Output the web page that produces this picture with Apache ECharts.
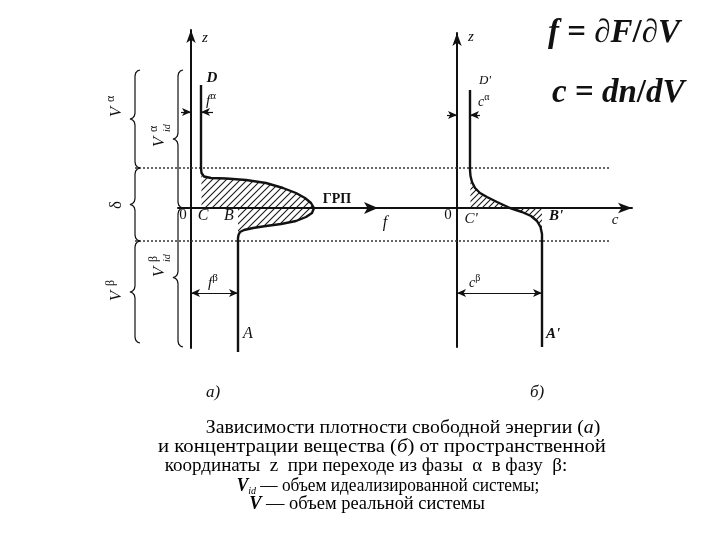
<!DOCTYPE html>
<html>
<head>
<meta charset="utf-8">
<script src="https://cdn.jsdelivr.net/npm/echarts@6/dist/echarts.min.js"></script>
<style>
  html, body { margin: 0; background: #fff; }
  #main { width: 720px; height: 540px; }
</style>
</head>
<body>
<div id="main"></div>
<script>
// а) free energy density f along z
const fAlpha = 1.0;   // f in phase alpha
const fBeta = 4.7;    // f in phase beta
const curveF = [
  [1.0, 12.3], [1.0, 4.0], [1.05, 3.5], [1.3, 3.15], [2.0, 3.0], [3.5, 2.95],
  [5.5, 2.8], [7.5, 2.5], [9.2, 2.0], [10.5, 1.5], [11.4, 1.0], [12.0, 0.5],
  [12.3, 0], [12.1, -0.5], [11.5, -0.9], [10.5, -1.3], [9.0, -1.6], [7.5, -1.8],
  [6.2, -2.0], [5.3, -2.2], [4.9, -2.4], [4.75, -2.7], [4.7, -3.0], [4.7, -14.4]
];
// б) concentration c along z
const cAlpha = 1.3;
const cBeta = 8.5;
const curveC = [
  [1.3, 11.8], [1.3, 3.8], [1.35, 3.2], [1.5, 2.6], [1.8, 2.0], [2.3, 1.5],
  [3.0, 1.1], [4.0, 0.6], [5.3, 0], [6.5, -0.4], [7.4, -0.8], [8.0, -1.3],
  [8.35, -1.9], [8.5, -2.6], [8.5, -3.2], [8.5, -13.9]
];
// interface layer boundaries (dotted) and the braces on the left
const layerBounds = [4.0, -3.3];
const outerBraces = [[13.8, 4.0], [4.0, -3.3], [-3.3, -13.5]];   // V^α, δ, V^β
const innerBraces = [[13.8, 0], [0, -13.9]];                      // V^α_id, V^β_id

const serif = "'Liberation Serif','DejaVu Serif',serif";
const ink = '#111';

function hatch(step) {
  const c = document.createElement('canvas');
  c.width = c.height = step;
  const g = c.getContext('2d');
  g.strokeStyle = '#1a1a1a';
  g.lineWidth = 1.1;
  g.beginPath();
  g.moveTo(0, step); g.lineTo(step, 0);
  g.moveTo(-1, 1); g.lineTo(1, -1);
  g.moveTo(step - 1, step + 1); g.lineTo(step + 1, step - 1);
  g.stroke();
  return c;
}

// curly brace, tip to the left, hooks to the right
function brace(x, z1, z2, w, h) {
  const m = (z1 + z2) / 2, pts = [];
  const arc = (cx, cy, a0, a1) => {
    for (let i = 0; i <= 6; i++) {
      const a = (a0 + (a1 - a0) * i / 6) * Math.PI / 180;
      pts.push([cx + w * Math.cos(a), cy + h * Math.sin(a)]);
    }
  };
  arc(x + w, z1 - h, 90, 180);
  arc(x - w, m + h, 0, -90);
  arc(x - w, m - h, 90, 0);
  arc(x + w, z2 + h, 180, 270);
  return pts;
}

function line(data, gi, extra) {
  return Object.assign({
    type: 'line', xAxisIndex: gi, yAxisIndex: gi, data: data,
    symbol: 'none', clip: false, silent: true,
    lineStyle: { color: ink, width: 2 }
  }, extra || {});
}

function txt(x, y, text, o) {
  return {
    type: 'text', x: x, y: y, silent: true,
    style: Object.assign({
      text: text, fill: ink, fontFamily: serif, fontSize: 16,
      align: 'center', verticalAlign: 'middle'
    }, o || {})
  };
}
// letter with a superscript
function supTxt(x, y, base, sup, size) {
  return txt(x, y, '{b|' + base + '}{s|' + sup + '}', {
    align: 'left',
    rich: {
      b: { fontFamily: serif, fontStyle: 'italic', fontSize: size, lineHeight: size + 6, fill: ink },
      s: { fontFamily: serif, fontSize: size - 4, lineHeight: size - 3, verticalAlign: 'top', fill: ink }
    }
  });
}
// vertical (rotated) volume labels
function vLabel(x, y, sup, sub) {
  const kids = [txt(-4, 0, 'V', { fontStyle: 'italic', fontSize: 17 })];
  kids.push(txt(6, -6, sup, { fontSize: 12, align: 'left' }));
  if (sub) kids.push(txt(6, 7, sub, { fontSize: 10, fontStyle: 'italic', align: 'left' }));
  return { type: 'group', x: x, y: y, rotation: Math.PI / 2, children: kids };
}
// caption line squeezed/stretched to the width it has in the figure
function capLine(cx, y, sx, text, rich) {
  return { type: 'group', x: cx, y: y, scaleX: sx,
    children: [txt(0, 0, text, { fontSize: 19, fill: '#000', rich: rich })] };
}

const arrowLine = { color: ink, width: 1.2, type: 'solid' };
const axisCommon = {
  type: 'value', axisTick: { show: false }, axisLabel: { show: false },
  splitLine: { show: false }
};
const hidden = { type: 'value', show: false };

const series = [];
// grid 2 spans the whole figure with the same scale as diagram a
layerBounds.forEach(z => series.push(line([[-5.6, z], [41.9, z]], 2, {
  lineStyle: { color: '#333', width: 1.5, type: [2, 2] }
})));
outerBraces.forEach(b => series.push(line(brace(-5.6, b[0], b[1], 0.5, 0.6), 2, { lineStyle: { color: ink, width: 1.2 } })));
innerBraces.forEach(b => series.push(line(brace(-1.3, b[0], b[1], 0.5, 0.6), 2, { lineStyle: { color: ink, width: 1.2 } })));

series.push(line(curveF, 2, {
  lineStyle: { color: ink, width: 2.4 },
  areaStyle: { color: { image: hatch(7), repeat: 'repeat' }, opacity: 1 },
  markLine: {
    silent: true, symbol: ['none', 'arrow'], symbolSize: [6, 9],
    lineStyle: arrowLine, label: { show: false },
    data: [
      [{ coord: [-1.0, 9.6] }, { coord: [0, 9.6] }],
      [{ coord: [2.2, 9.6] }, { coord: [fAlpha, 9.6] }],
      [{ coord: [0, -8.5], symbol: 'arrow' }, { coord: [fBeta, -8.5] }],
      [{ coord: [-1.3, 0] }, { coord: [18.7, 0], symbolSize: [9, 14], lineStyle: { width: 2 } }]
    ]
  }
}));
series.push(line(curveC, 1, {
  lineStyle: { color: ink, width: 2.4 },
  areaStyle: { color: { image: hatch(6), repeat: 'repeat' }, opacity: 1 },
  markLine: {
    silent: true, symbol: ['none', 'arrow'], symbolSize: [6, 9],
    lineStyle: arrowLine, label: { show: false },
    data: [
      [{ coord: [-1.0, 9.3] }, { coord: [0, 9.3] }],
      [{ coord: [2.3, 9.3] }, { coord: [cAlpha, 9.3] }],
      [{ coord: [0, -8.5], symbol: 'arrow' }, { coord: [cBeta, -8.5] }]
    ]
  }
}));

const bi = { fontFamily: serif, fontStyle: 'italic', fontWeight: 'bold', fontSize: 33, fill: ink };
const it19 = { i: { fontFamily: serif, fontStyle: 'italic', fontSize: 19, fill: '#000' } };
const g = [
  // formulas
  txt(548, 33, '{i|f} = {i|∂F}/{i|∂V}', { align: 'left', rich: { i: bi }, fontWeight: 'bold', fontSize: 33 }),
  txt(552, 93, '{i|c} = {i|dn}/{i|dV}', { align: 'left', rich: { i: bi }, fontWeight: 'bold', fontSize: 33 }),
  // diagram a
  txt(205, 38, 'z', { fontStyle: 'italic', fontSize: 15 }),
  txt(212, 78, 'D', { fontStyle: 'italic', fontWeight: 'bold', fontSize: 15 }),
  supTxt(206, 101, 'f', 'α', 15),
  txt(183, 215, '0', { fontSize: 15 }),
  txt(203, 216, 'C', { fontStyle: 'italic', fontSize: 16 }),
  txt(229, 216, 'B', { fontStyle: 'italic', fontSize: 16 }),
  txt(337, 199, 'ГРП', { fontWeight: 'bold', fontSize: 14 }),
  txt(385, 223, 'f', { fontStyle: 'italic', fontSize: 16 }),
  supTxt(208, 283, 'f', 'β', 15),
  txt(248, 334, 'A', { fontStyle: 'italic', fontSize: 16 }),
  vLabel(117, 108, 'α'),
  { type: 'group', x: 117, y: 205, rotation: Math.PI / 2, children: [txt(0, 0, 'δ', { fontSize: 17 })] },
  vLabel(117, 292, 'β'),
  vLabel(160, 138, 'α', 'id'),
  vLabel(160, 268, 'β', 'id'),
  // diagram б
  txt(471, 37, 'z', { fontStyle: 'italic', fontSize: 15 }),
  txt(485, 81, "D'", { fontStyle: 'italic', fontSize: 13 }),
  supTxt(478, 102, 'c', 'α', 14),
  txt(448, 215, '0', { fontSize: 15 }),
  txt(471, 219, "C'", { fontStyle: 'italic', fontSize: 15 }),
  txt(556, 216, "B'", { fontStyle: 'italic', fontWeight: 'bold', fontSize: 15 }),
  txt(615, 220, 'c', { fontStyle: 'italic', fontSize: 15 }),
  supTxt(469, 283, 'c', 'β', 14),
  txt(553, 334, "A'", { fontStyle: 'italic', fontWeight: 'bold', fontSize: 15 }),
  // captions
  txt(213, 393, 'а)', { fontStyle: 'italic', fontSize: 17 }),
  txt(537, 393, 'б)', { fontStyle: 'italic', fontSize: 17 }),
  capLine(403, 428, 1.04, 'Зависимости плотности свободной энергии ({i|а})', it19),
  capLine(382, 447, 1.09, 'и концентрации вещества ({i|б}) от пространственной', it19),
  capLine(366, 466, 1.0, 'координаты  z  при переходе из фазы  α  в фазу  β:'),
  capLine(388, 486, 0.91, '{v|V}{s|id} — объем идеализированной системы;', {
    v: { fontFamily: serif, fontStyle: 'italic', fontWeight: 'bold', fontSize: 19, lineHeight: 22, fill: '#000' },
    s: { fontFamily: serif, fontStyle: 'italic', fontSize: 11, lineHeight: 12, verticalAlign: 'bottom', fill: '#000' }
  }),
  capLine(367, 504, 0.97, '{v|V} — объем реальной системы', {
    v: { fontFamily: serif, fontStyle: 'italic', fontWeight: 'bold', fontSize: 19, fill: '#000' }
  })
];

const chart = echarts.init(document.getElementById('main'));
chart.setOption({
  animation: false,
  backgroundColor: '#fff',
  grid: [
    { left: 178, top: 30, width: 262, height: 318 },
    { left: 440, top: 33, width: 192, height: 314 },
    { left: 100, top: 30, width: 540, height: 326 }
  ],
  xAxis: [
    Object.assign({ gridIndex: 0, min: -1.3, max: 24.9,
      axisLine: { onZero: true, lineStyle: { color: ink, width: 2 } } }, axisCommon),
    Object.assign({ gridIndex: 1, min: -1.7, max: 17.5,
      axisLine: { onZero: true, symbol: ['none', 'arrow'], symbolSize: [8, 14], lineStyle: { color: ink, width: 2 } } }, axisCommon),
    Object.assign({ gridIndex: 2, min: -9.1, max: 44.9 }, hidden)
  ],
  yAxis: [
    Object.assign({ gridIndex: 0, min: -14, max: 17.8,
      axisLine: { onZero: true, symbol: ['none', 'arrow'], symbolSize: [7, 13], lineStyle: { color: ink, width: 2 } } }, axisCommon),
    Object.assign({ gridIndex: 1, min: -13.9, max: 17.5,
      axisLine: { onZero: true, symbol: ['none', 'arrow'], symbolSize: [7, 13], lineStyle: { color: ink, width: 2 } } }, axisCommon),
    Object.assign({ gridIndex: 2, min: -14.8, max: 17.8 }, hidden)
  ],
  series: series,
  graphic: g
});
</script>
</body>
</html>
